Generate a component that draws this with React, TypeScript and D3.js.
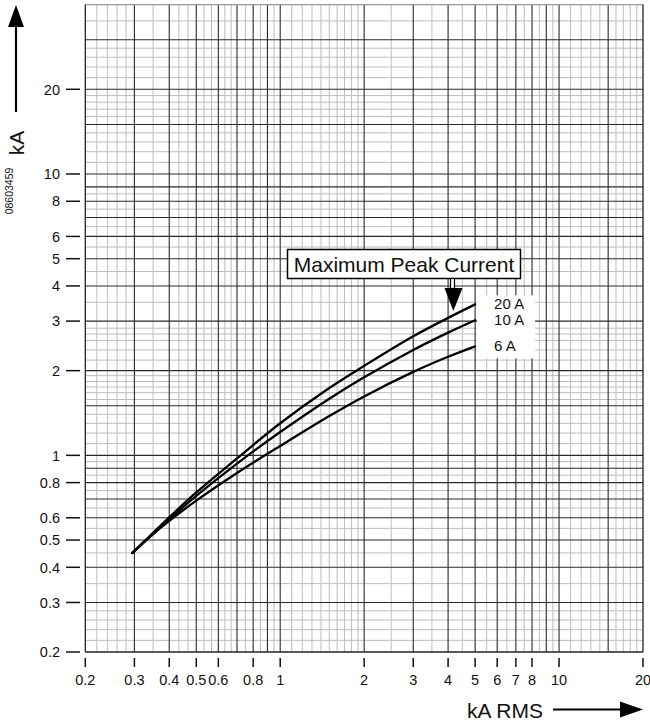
import React from 'react';
import * as d3 from 'd3';

// ---- data ----
const xTickValues = [0.2, 0.3, 0.4, 0.5, 0.6, 0.8, 1, 2, 3, 4, 5, 6, 7, 8, 10, 20];
const xTickLabels = ['0.2', '0.3', '0.4', '0.5', '0.6', '0.8', '1', '2', '3', '4', '5', '6', '7', '8', '10', '20'];
const yTickValues = [0.2, 0.3, 0.4, 0.5, 0.6, 0.8, 1, 2, 3, 4, 5, 6, 8, 10, 20];
const yTickLabels = ['0.2', '0.3', '0.4', '0.5', '0.6', '0.8', '1', '2', '3', '4', '5', '6', '8', '10', '20'];

const xMajorGrid = [0.3, 0.4, 0.5, 0.6, 0.7, 0.8, 0.9, 1, 2, 3, 4, 5, 6, 7, 8, 9, 10, 15];
const xMinorGrid = [0.22, 0.24, 0.26, 0.28, 0.35, 0.433, 0.467, 0.533, 0.567, 0.633, 0.667, 0.75, 0.85, 0.95,
  1.1, 1.2, 1.3, 1.4, 1.5, 1.6, 1.7, 1.8, 1.9, 2.5, 3.5, 4.5, 5.5, 6.5, 7.5, 8.5, 9.5,
  11, 12, 13, 14, 16, 17, 18, 19];
const yMajorGrid = [0.3, 0.4, 0.5, 0.6, 0.7, 0.8, 0.9, 1, 1.5, 2, 3, 4, 5, 6, 7, 8, 9, 10, 15, 20, 30];
const yMinorGrid = [0.22, 0.24, 0.26, 0.28, 0.35, 0.45, 0.55, 0.65, 0.75, 0.85, 0.95,
  1.1, 1.2, 1.3, 1.4, 1.58, 1.67, 1.75, 1.83, 1.92, 2.18, 2.37, 2.56, 2.7, 2.83,
  3.5, 4.5, 5.5, 6.5, 7.5, 8.5, 11, 12, 13, 14, 16, 17, 18, 19, 22, 24, 26, 28, 35];

const rmsCurrent = [0.295, 0.35, 0.4, 0.5, 0.7, 1, 1.5, 2, 3, 4, 5];
const peak20A = [0.45, 0.53, 0.602, 0.738, 0.975, 1.3, 1.735, 2.08, 2.65, 3.08, 3.44];
const peak10A = [0.45, 0.526, 0.593, 0.718, 0.935, 1.21, 1.59, 1.895, 2.37, 2.73, 3.02];
const peak6A = [0.45, 0.525, 0.585, 0.69, 0.865, 1.08, 1.38, 1.62, 1.98, 2.24, 2.44];
const seriesLabels = ['20 A', '10 A', '6 A'];
const seriesValues = [peak20A, peak10A, peak6A];

const annotation = 'Maximum Peak Current';
const yTitle = 'kA';
const xTitle = 'kA RMS';
const docId = '08603459';

const FONT = 'Liberation Sans, Arial, Helvetica, sans-serif';

export default function App() {
  const W = 650, H = 726;
  const x = d3.scaleLog().domain([0.2, 20]).range([85.3, 643]);
  const y = d3.scaleLog().domain([0.2, 40]).range([652, 4.6]);
  const [x0, x1] = x.range();
  const [y0, y1] = y.range();

  const line = d3.line<number>()
    .x((_, i) => x(rmsCurrent[i]))
    .y((d) => y(d))
    .curve(d3.curveCatmullRom.alpha(0.5));

  const last = rmsCurrent.length - 1;
  const xEnd = x(rmsCurrent[last]);
  const endYs = seriesValues.map((s) => y(s[last]));

  return (
    <svg width={W} height={H} style={{ position: 'absolute', left: 0, top: 0, background: '#fff' }}
      fontFamily={FONT}>
      <rect x={0} y={0} width={W} height={H} fill="#fff" />
      {/* minor grid */}
      <g stroke="#bdbdbd" strokeWidth={1}>
        {xMinorGrid.map((v) => (
          <line key={'xm' + v} x1={x(v)} x2={x(v)} y1={y1} y2={y0} />
        ))}
        {yMinorGrid.map((v) => (
          <line key={'ym' + v} x1={x0} x2={x1} y1={y(v)} y2={y(v)} />
        ))}
      </g>
      {/* major grid */}
      <g stroke="#2a2a2a" strokeWidth={1.1}>
        {xMajorGrid.map((v) => (
          <line key={'xM' + v} x1={x(v)} x2={x(v)} y1={y1} y2={y0} />
        ))}
        {yMajorGrid.map((v) => (
          <line key={'yM' + v} x1={x0} x2={x1} y1={y(v)} y2={y(v)} />
        ))}
      </g>
      {/* border */}
      <line x1={x0} x2={x1} y1={y1} y2={y1} stroke="#999" strokeWidth={1.2} />
      <line x1={x0} x2={x0} y1={y1} y2={y0} stroke="#222" strokeWidth={1.3} />
      <line x1={x1} x2={x1} y1={y1} y2={y0} stroke="#222" strokeWidth={1.3} />
      <line x1={x0} x2={x1} y1={y0} y2={y0} stroke="#222" strokeWidth={1.3} />

      {/* white area behind series labels */}
      <rect x={xEnd + 2} y={endYs[0] - 9} width={58} height={endYs[2] - endYs[0] + 21} fill="#fff" />

      {/* curves */}
      <g fill="none" stroke="#000" strokeWidth={2.3} strokeLinecap="round">
        {seriesValues.map((s, i) => (
          <path key={'c' + i} d={line(s) || ''} />
        ))}
      </g>
      {/* series labels */}
      <g fontSize={15} fill="#111">
        {seriesLabels.map((t, i) => (
          <text key={t} x={xEnd + 19} y={endYs[i] + 5}>{t}</text>
        ))}
      </g>

      {/* annotation box */}
      <rect x={287.5} y={249.5} width={233} height={29} fill="#fff" stroke="#000" strokeWidth={1.5} />
      <text x={404} y={271.5} fontSize={21} textAnchor="middle" fill="#111">{annotation}</text>
      <rect x={450.5} y={278.5} width={4} height={10} fill="#fff" stroke="#000" strokeWidth={1.2} />
      <path d="M444.5,288 L462.5,288 L453.3,311 Z" fill="#000" />

      {/* y ticks */}
      <g>
        {yTickValues.map((v, i) => (
          <g key={'yt' + v}>
            <line x1={66} x2={80} y1={y(v)} y2={y(v)} stroke="#111" strokeWidth={1.5} />
            <text x={60} y={y(v)} dy="0.36em" textAnchor="end" fontSize={14.5} fill="#111">{yTickLabels[i]}</text>
          </g>
        ))}
      </g>
      {/* x ticks */}
      <g>
        {xTickValues.map((v, i) => (
          <g key={'xt' + v}>
            <line x1={x(v)} x2={x(v)} y1={658} y2={667} stroke="#111" strokeWidth={1.5} />
            <text x={x(v)} y={685} textAnchor="middle" fontSize={14.5} fill="#111">{xTickLabels[i]}</text>
          </g>
        ))}
      </g>

      {/* y axis arrow & title */}
      <line x1={16} x2={16} y1={26} y2={112} stroke="#000" strokeWidth={2.2} />
      <path d="M16,5 L24,27 L8,27 Z" fill="#000" />
      <text transform="translate(24,143) rotate(-90)" textAnchor="middle" fontSize={21} fill="#111">{yTitle}</text>
      <text transform="translate(12.5,191) rotate(-90)" textAnchor="middle" fontSize={10.5} fill="#111">{docId}</text>

      {/* x axis title & arrow */}
      <text x={505} y={718} textAnchor="middle" fontSize={21} fill="#111">{xTitle}</text>
      <line x1={553} x2={622} y1={709.5} y2={709.5} stroke="#000" strokeWidth={2.2} />
      <path d="M620,701.5 L643,709.5 L620,717.5 Z" fill="#000" />
    </svg>
  );
}
